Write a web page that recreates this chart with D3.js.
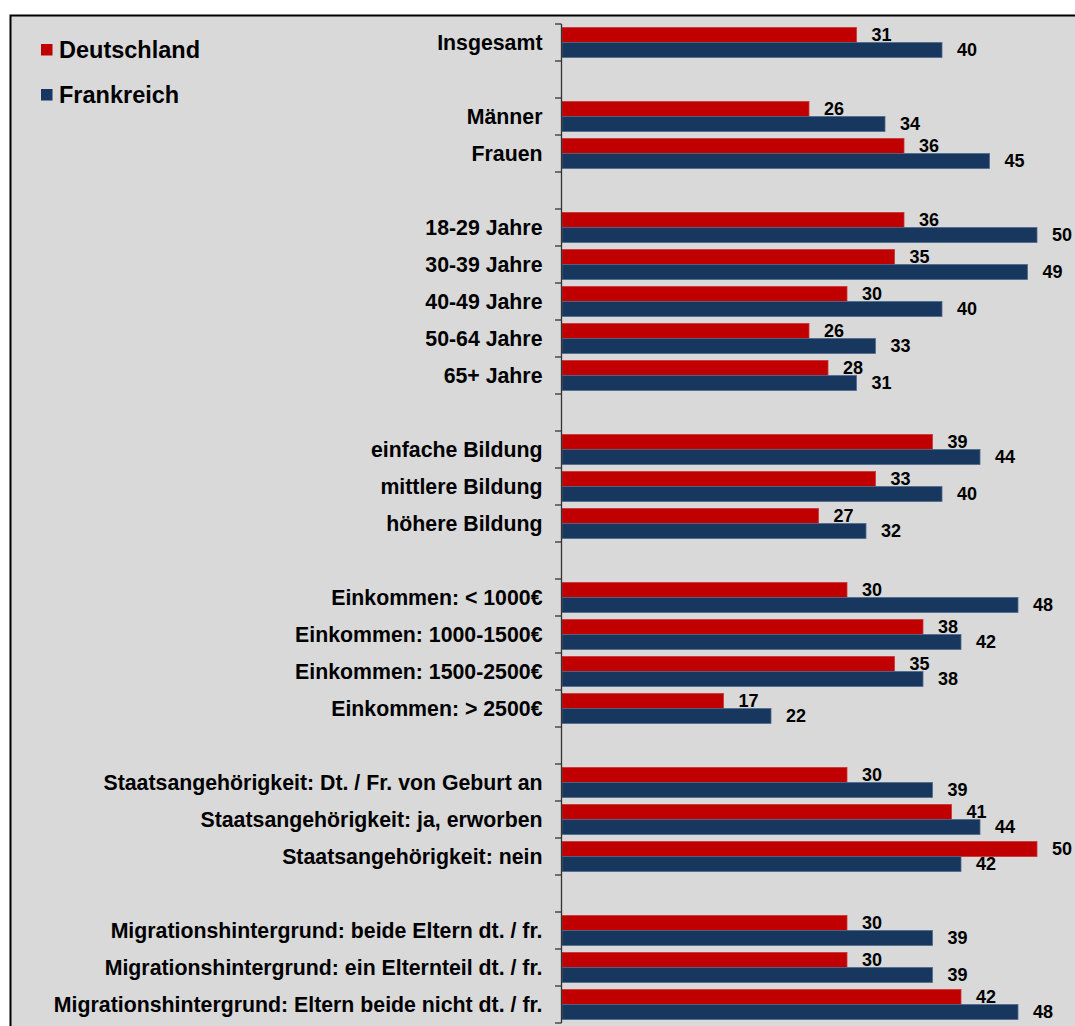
<!DOCTYPE html>
<html>
<head>
<meta charset="utf-8">
<script src="https://cdn.jsdelivr.net/npm/d3@7"></script>
<style>
  html, body { margin: 0; padding: 0; background: #ffffff; }
  svg { display: block; }
  text { font-family: "Liberation Sans", Arial, sans-serif; font-weight: bold; fill: #000; }
</style>
</head>
<body>
<svg id="chart" width="1075" height="1026"></svg>
<script>
// Rows from top to bottom; null marks an empty spacer row between groups
const categories = [
  "Insgesamt", null,
  "Männer", "Frauen", null,
  "18-29 Jahre", "30-39 Jahre", "40-49 Jahre", "50-64 Jahre", "65+ Jahre", null,
  "einfache Bildung", "mittlere Bildung", "höhere Bildung", null,
  "Einkommen: < 1000€", "Einkommen: 1000-1500€", "Einkommen: 1500-2500€", "Einkommen: > 2500€", null,
  "Staatsangehörigkeit: Dt. / Fr. von Geburt an", "Staatsangehörigkeit: ja, erworben", "Staatsangehörigkeit: nein", null,
  "Migrationshintergrund: beide Eltern dt. / fr.", "Migrationshintergrund: ein Elternteil dt. / fr.", "Migrationshintergrund: Eltern beide nicht dt. / fr."
];
const deutschland = [31, null, 26, 36, null, 36, 35, 30, 26, 28, null, 39, 33, 27, null, 30, 38, 35, 17, null, 30, 41, 50, null, 30, 30, 42];
const frankreich  = [40, null, 34, 45, null, 50, 49, 40, 33, 31, null, 44, 40, 32, null, 48, 42, 38, 22, null, 39, 44, 42, null, 39, 39, 48];
const seriesNames = ["Deutschland", "Frankreich"];
const seriesColors = ["#c00000", "#17375e"];
const seriesStroke = ["#cc3333", "#4f6a8c"];

const svg = d3.select("#chart");
const W = 1075, H = 1026;

// Grey panel with a dark frame on the top and left
svg.append("rect").attr("x", 10.5).attr("y", 15.5).attr("width", W).attr("height", H)
  .attr("fill", "#d9d9d9").attr("stroke", "#000").attr("stroke-width", 2);

const x = d3.scaleLinear().domain([0, 50]).range([562, 1037]);
const y = d3.scaleBand().domain(d3.range(categories.length)).range([24, 1023]).padding(0);
const ySeries = d3.scaleBand().domain(seriesNames).range([0, y.bandwidth()]).paddingInner(0).paddingOuter(0.233);

const values = [deutschland, frankreich];
const rows = categories.map((c, i) => ({ i, label: c }));

// Bars and their value labels
seriesNames.forEach((name, s) => {
  const d = rows.filter(r => values[s][r.i] != null);
  svg.append("g").selectAll("rect").data(d).join("rect")
    .attr("x", x(0))
    .attr("y", r => y(r.i) + ySeries(name))
    .attr("width", r => x(values[s][r.i]) - x(0))
    .attr("height", ySeries.bandwidth())
    .attr("fill", seriesColors[s])
    .attr("stroke", seriesStroke[s]).attr("stroke-width", 0.8);

  svg.append("g").selectAll("text").data(d).join("text")
    .attr("x", r => x(values[s][r.i]) + 15)
    .attr("y", r => y(r.i) + ySeries(name) + ySeries.bandwidth() / 2)
    .attr("dy", "0.36em")
    .attr("font-size", 18)
    .text(r => values[s][r.i]);
});

// Category axis: vertical line with ticks at each row boundary
const axis = svg.append("g");
axis.append("line").attr("x1", x(0) - 0.5).attr("x2", x(0) - 0.5)
  .attr("y1", y.range()[0]).attr("y2", y.range()[1])
  .attr("stroke", "#333").attr("stroke-width", 1.3);
const boundaries = d3.range(categories.length + 1).map(i => y.range()[0] + i * y.step());
axis.selectAll("line.tick").data(boundaries).join("line").attr("class", "tick")
  .attr("x1", x(0) - 7).attr("x2", x(0) - 0.5)
  .attr("y1", b => b).attr("y2", b => b)
  .attr("stroke", "#333").attr("stroke-width", 1.3);

axis.selectAll("text").data(rows.filter(r => r.label)).join("text")
  .attr("x", x(0) - 19.5)
  .attr("y", r => y(r.i) + y.bandwidth() / 2)
  .attr("dy", "0.36em")
  .attr("text-anchor", "end")
  .attr("font-size", 21.3)
  .text(r => r.label);

// Legend
const legend = svg.append("g");
seriesNames.forEach((name, s) => {
  const ly = 50 + s * 45;
  legend.append("rect").attr("x", 41).attr("y", ly - 6).attr("width", 11.5).attr("height", 11.5)
    .attr("fill", seriesColors[s]);
  legend.append("text").attr("x", 59).attr("y", ly).attr("dy", "0.36em")
    .attr("font-size", 23.5).text(name);
});
</script>
</body>
</html>
